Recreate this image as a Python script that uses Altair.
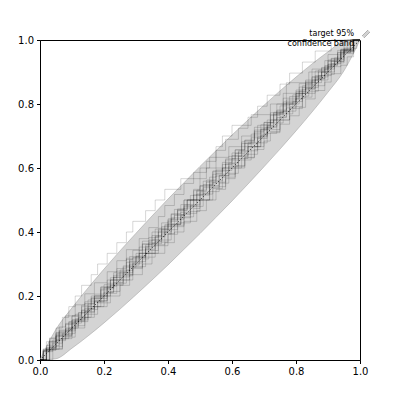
import altair as alt
import pandas as pd

# sorted credible levels of each simulated set
set_a = [.01, .03, .05, .07, .09, .11, .13, .16, .18, .21, .24, .27, .29, .33, .36, .39, .44, .50, .55, .59, .63, .68, .72, .76, .80, .84, .88, .92, .95, .98]
set_b = [.02, .06, .09, .12, .16, .19, .22, .26, .29, .31, .34, .37, .40, .43, .46, .48, .50, .52, .53, .55, .57, .60, .66, .72, .77, .83, .87, .91, .95, .98]
set_c = [.03, .07, .10, .14, .17, .21, .25, .28, .32, .35, .39, .42, .45, .49, .52, .55, .58, .61, .64, .67, .69, .71, .73, .74, .76, .77, .84, .90, .94, .98]
set_d = [.03, .05, .09, .15, .17, .21, .27, .29, .33, .39, .41, .45, .51, .53, .57, .63, .65, .69, .75, .77, .81, .87, .89, .93, .97]
set_e = [.01, .03, .06, .09, .12, .14, .17, .20, .23, .26, .28, .31, .34, .37, .40, .42, .45, .48, .51, .54, .57, .60, .63, .66, .69, .72, .75, .78, .81, .85, .88, .91, .94, .98]
set_f = [.02, .05, .10, .12, .17, .21, .23, .28, .31, .36, .38, .43, .47, .49, .54, .58, .60, .65, .69, .71, .76, .80, .82, .87, .91, .94, .98]
set_g = [.01, .03, .05, .08, .10, .13, .16, .19, .21, .24, .27, .30, .32, .35, .38, .41, .43, .46, .49, .52, .55, .57, .60, .63, .66, .69, .72, .74, .77, .80, .83, .86, .89, .92, .95, .98]
set_h = [.03, .07, .11, .15, .20, .24, .28, .33, .37, .41, .45, .49, .53, .58, .62, .66, .70, .74, .78, .82, .86, .90, .94, .98]
set_i = [.01, .04, .06, .10, .13, .15, .19, .22, .25, .28, .31, .34, .37, .40, .43, .46, .49, .52, .55, .58, .61, .64, .67, .71, .74, .77, .80, .83, .87, .90, .94, .97]
set_j = [.04, .07, .11, .14, .18, .22, .25, .29, .32, .36, .40, .43, .47, .50, .54, .57, .61, .64, .68, .71, .75, .78, .82, .85, .89, .92, .95, .98]
set_k = [.01, .02, .05, .08, .11, .13, .16, .19, .22, .24, .27, .29, .32, .35, .38, .41, .44, .47, .50, .53, .55, .58, .61, .64, .67, .70, .73, .76, .79, .82, .85, .88, .91, .94, .97]
set_l = [.02, .05, .10, .13, .16, .21, .24, .28, .33, .36, .39, .44, .47, .51, .56, .59, .62, .68, .71, .74, .79, .82, .86, .90, .93, .97]
set_m = [.02, .05, .08, .11, .14, .17, .20, .23, .26, .29, .32, .35, .38, .41, .44, .47, .50, .53, .56, .59, .62, .65, .68, .71, .74, .77, .80, .83, .86, .89, .92, .95, .98]
set_n = [.01, .03, .06, .08, .11, .14, .17, .21, .24, .27, .31, .34, .37, .39, .42, .45, .48, .52, .55, .58, .62, .65, .68, .71, .75, .78, .82, .86, .91]
set_o = [.02, .05, .08, .11, .14, .17, .20, .23, .26, .30, .33, .36, .39, .42, .45, .48, .51, .54, .58, .61, .64, .67, .70, .73, .76, .80, .83, .86, .89, .93, .96]
set_p = [.01, .04, .07, .10, .12, .15, .18, .21, .23, .26, .29, .32, .34, .37, .40, .42, .45, .48, .50, .53, .56, .59, .61, .64, .67, .70, .72, .75, .78, .81, .83, .86, .89, .91, .94, .96, .98, .99]
set_q = [.02, .03, .05, .08, .10, .14, .15, .17, .21, .22, .25, .28, .30, .33, .35, .38, .40, .44, .45, .48, .50, .53, .55, .57, .61, .62, .65, .68, .70, .73, .75, .78, .80, .84, .85, .88, .90, .93, .95, .98]
set_r = [.02, .06, .10, .14, .19, .23, .27, .32, .36, .41, .45, .50, .54, .59, .63, .67, .72, .76, .81, .85, .90, .95]

sets = [set_a, set_b, set_c, set_d, set_e, set_f, set_g, set_h, set_i,
        set_j, set_k, set_l, set_m, set_n, set_o, set_p, set_q, set_r]

# target 95% confidence band
band_x = [0, .05, .10, .15, .20, .25, .30, .35, .40, .45, .50, .55, .60, .65, .70, .75, .80, .85, .90, .95, 1.0]
band_upper = [0, .096, .163, .225, .284, .341, .396, .450, .503, .554, .605, .654, .703, .750, .796, .841, .884, .925, .963, .996, 1.0]
band_lower = [0, .004, .037, .075, .116, .159, .204, .250, .297, .346, .395, .446, .497, .550, .604, .659, .716, .775, .837, .904, 1.0]

diag_x = [0, 1]

# empirical CDF of each set
rows = []
for k, s in enumerate(sets):
    n = len(s)
    rows.append({"set": k, "x": 0.0, "y": 0.0})
    for i, v in enumerate(s):
        rows.append({"set": k, "x": v, "y": (i + 1) / n})
    rows.append({"set": k, "x": 1.0, "y": 1.0})
curve_df = pd.DataFrame(rows)
band_df = pd.DataFrame({"x": band_x, "lo": band_lower, "hi": band_upper})
diag_df = pd.DataFrame({"x": diag_x, "y": diag_x})

ticks = [0, 0.2, 0.4, 0.6, 0.8, 1.0]
xs = alt.Scale(domain=[0, 1], nice=False)
ys = alt.Scale(domain=[0, 1], nice=False)


def make_axis():
    return alt.Axis(values=ticks, format=".1f", title=None, grid=False, tickSize=3.5,
                    labelFontSize=10, labelColor="black", tickColor="black",
                    domainColor="black", labelFont="DejaVu Sans", labelPadding=3,
                    labelFlush=False, labelOverlap=False)


band = alt.Chart(band_df).mark_area(fill="#d4d4d4", stroke="#a8a8a8", strokeWidth=0.6,
                                    interpolate="monotone").encode(
    x=alt.X("x:Q", scale=xs, axis=make_axis()),
    y=alt.Y("lo:Q", scale=ys, axis=make_axis()),
    y2="hi:Q",
)

lines = alt.Chart(curve_df).mark_line(interpolate="step-after", color="black",
                                      opacity=0.16, strokeWidth=1).encode(
    x=alt.X("x:Q", scale=xs),
    y=alt.Y("y:Q", scale=ys),
    detail="set:N",
)

diag = alt.Chart(diag_df).mark_line(color="black", strokeDash=[1, 2], strokeWidth=0.8).encode(
    x=alt.X("x:Q", scale=xs),
    y=alt.Y("y:Q", scale=ys),
)

one = pd.DataFrame({"a": [0]})
legend_text = alt.Chart(one).mark_text(
    text=["target 95%", "confidence band"], align="right", baseline="bottom",
    fontSize=8, font="DejaVu Sans", color="black", lineHeight=10,
).encode(x=alt.value(314), y=alt.value(-2))

legend_icon_fill = alt.Chart(one).mark_rule(color="#d0d0d0", strokeWidth=2.2).encode(
    x=alt.value(323), y=alt.value(-3), x2=alt.value(329), y2=alt.value(-9))
legend_icon_edge1 = alt.Chart(one).mark_rule(color="#808080", strokeWidth=0.6).encode(
    x=alt.value(322), y=alt.value(-4), x2=alt.value(328), y2=alt.value(-10))
legend_icon_edge2 = alt.Chart(one).mark_rule(color="#808080", strokeWidth=0.6).encode(
    x=alt.value(324), y=alt.value(-2), x2=alt.value(330), y2=alt.value(-8))

chart = alt.layer(band, lines, diag, legend_text, legend_icon_fill,
                  legend_icon_edge1, legend_icon_edge2).properties(
    width=320, height=320,
    autosize=alt.AutoSizeParams(type="none"),
    padding={"left": 32, "top": 32, "right": 32, "bottom": 32},
).configure_view(stroke="black", strokeWidth=1)

chart.save("out.html", embed_options={"renderer": "svg", "actions": False})
